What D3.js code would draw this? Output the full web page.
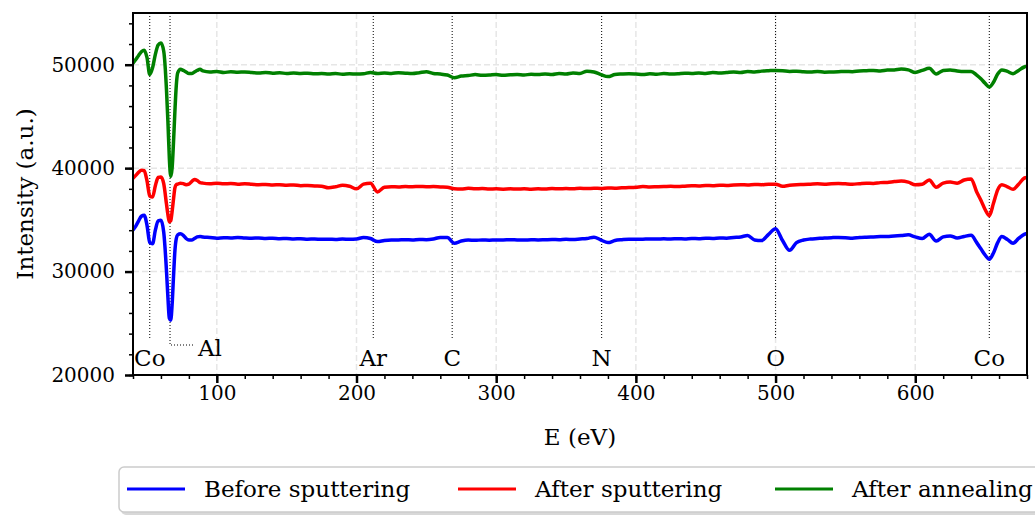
<!DOCTYPE html>
<html><head><meta charset="utf-8">
<script src="https://cdn.jsdelivr.net/npm/d3@7/dist/d3.min.js"></script>
<style>
body{margin:0;background:#fff;}
text{font-family:"DejaVu Serif",serif;fill:#000;}
</style></head><body><svg id="c" width="1035" height="516"></svg>
<script>
// ---------------- data ----------------
const energy = [40,42,44,46,48,50,52,54,56,58,60,62,64,65,66,67,68,69,70,71,72,74,76,78,80,82,84,86,88,90,
95,100,105,110,115,120,125,130,135,140,145,150,155,160,165,170,175,180,185,190,195,200,205,210,215,220,225,230,235,240,245,250,255,260,265,270,275,280,285,290,295,300,305,310,315,320,325,330,335,340,345,350,355,360,365,370,375,380,385,390,395,400,405,410,415,420,425,430,435,440,445,450,455,460,465,470,475,480,485,490,495,500,505,510,515,520,525,530,535,540,545,550,555,560,565,570,575,580,585,590,595,600,605,610,615,620,625,630,635,
640,644,647,650,653,656,659,662,666,670,674,678,680];

const beforeSputtering = [34030,34400,34900,35350,35450,34500,32800,32700,34000,34900,34950,33800,30000,27500,25500,25300,26800,29500,32000,33200,33550,33650,33500,33200,33050,33050,33200,33350,33400,33350,
33300,33230,33280,33250,33300,33250,33220,33250,33200,33230,33180,33200,33150,33180,33130,33150,33120,33130,33100,33150,33120,33150,33300,33200,32900,33000,33050,33060,33080,33050,33100,33080,33150,33300,33300,32750,32950,33050,33020,33060,33040,33060,33050,33080,33060,33050,33070,33060,33080,33100,33080,33120,33100,33150,33200,33330,33050,32800,33000,33080,33130,33120,33130,33150,33140,33170,33150,33180,33160,33200,33180,33220,33200,33250,33230,33300,33350,33480,33050,33000,33600,34150,33000,32050,32800,33050,33150,33200,33250,33280,33300,33280,33230,33300,33330,33350,33380,33400,33450,33480,33550,33350,33200,33600,32950,33350,33450,33250,33400,
33500,32800,32200,31600,31200,31800,32800,33380,33100,32740,33200,33600,33700];

const afterSputtering = [39030,39300,39600,39800,39750,38800,37300,37200,38300,39100,39150,38500,36500,35500,34800,34900,35800,37000,38100,38400,38450,38550,38500,38400,38450,38700,38900,38800,38600,38550,
38500,38550,38480,38520,38450,38500,38450,38400,38420,38380,38400,38350,38380,38300,38320,38280,38250,38100,38200,38350,38250,38000,38450,38550,37700,38150,38200,38180,38220,38200,38230,38200,38220,38180,38150,38000,37980,38050,38000,38020,37980,38000,37970,38000,37980,38010,37970,38000,37980,38020,38000,38030,38000,38050,38020,38060,38030,38080,38060,38100,38120,38150,38220,38180,38200,38220,38250,38220,38260,38300,38280,38320,38300,38350,38330,38380,38400,38380,38420,38400,38450,38450,38250,38350,38400,38420,38450,38480,38450,38500,38520,38480,38450,38500,38550,38520,38600,38620,38700,38750,38650,38400,38450,38850,38150,38550,38650,38550,38850,
38950,37700,36900,36000,35400,36600,37900,38400,38200,37950,38450,39030,39100];

const afterAnnealing = [50150,50500,50900,51250,51400,50700,49050,49700,51000,51900,52100,51300,47500,44500,41000,39200,40000,42500,45500,48000,49200,49550,49450,49300,49150,49150,49300,49450,49550,49400,
49300,49350,49250,49320,49280,49300,49250,49200,49250,49180,49220,49150,49200,49150,49180,49120,49150,49100,49150,49080,49120,49100,49130,49250,49150,49200,49160,49220,49180,49150,49230,49320,49150,49100,49000,48750,48900,48950,49050,48980,49000,49050,48980,49020,49050,49000,49080,49050,49100,49050,49150,49100,49200,49150,49380,49300,49050,48850,49050,49100,49130,49100,49050,49120,49080,49150,49100,49120,49180,49150,49200,49160,49250,49200,49250,49300,49250,49350,49300,49380,49420,49450,49420,49350,49380,49320,49300,49350,49280,49300,49320,49350,49330,49400,49420,49450,49400,49480,49500,49580,49500,49250,49450,49650,49100,49450,49500,49400,49350,
49350,49000,48650,48200,47850,48300,49100,49500,49350,49130,49450,49780,49850];

const seriesNames = ["Before sputtering", "After sputtering", "After annealing"];
const seriesColors = ["#0000ff", "#ff0000", "#008000"];
const xTickValues = [100, 200, 300, 400, 500, 600];
const yTickValues = [20000, 30000, 40000, 50000];
const elementNames = ["Co", "Al", "Ar", "C", "N", "O", "Co"];
const elementEnergies = [52, 66.5, 212, 268.5, 375.5, 500, 653];

// ---------------- chart ----------------
const svg = d3.select("#c");
const L = 133, R = 1027, T = 13, B = 375;
const x = d3.scaleLinear().domain([40, 680]).range([L, R]);
const y = d3.scaleLinear().domain([20000, 55000]).range([B, T]);

svg.append("rect").attr("width", 1035).attr("height", 516).attr("fill", "#fff");

// grid
const grid = svg.append("g").attr("stroke", "#e6e6e6").attr("stroke-width", 1.5).attr("stroke-dasharray", "6,3");
grid.selectAll(".gx").data(xTickValues).join("line")
  .attr("x1", d => x(d)).attr("x2", d => x(d)).attr("y1", T).attr("y2", B);
grid.selectAll(".gy").data(yTickValues.filter(d => d > 20000)).join("line")
  .attr("y1", d => y(d)).attr("y2", d => y(d)).attr("x1", L).attr("x2", R);

// element reference lines
const refG = svg.append("g").attr("stroke", "#000").attr("stroke-width", 1).attr("stroke-dasharray", "1,2").attr("fill", "none");
elementEnergies.forEach((e, i) => {
  if (elementNames[i] === "Al") {
    refG.append("path").attr("d", `M${x(e)},${T}V${y(22900)}H${x(83)}`);
  } else {
    refG.append("line").attr("x1", x(e)).attr("x2", x(e)).attr("y1", T).attr("y2", y(23400));
  }
});

// curves
const clip = svg.append("clipPath").attr("id", "clip").append("rect")
  .attr("x", L).attr("y", T).attr("width", R - L).attr("height", B - T);
const allSeries = [beforeSputtering, afterSputtering, afterAnnealing];
const line = d3.line().x((d, i) => x(energy[i])).y(d => y(d)).curve(d3.curveMonotoneX);
const curves = svg.append("g").attr("clip-path", "url(#clip)");
allSeries.forEach((s, k) => {
  curves.append("path").attr("d", line(s)).attr("fill", "none")
    .attr("stroke", seriesColors[k]).attr("stroke-width", 3.5)
    .attr("stroke-linejoin", "round").attr("stroke-linecap", "round");
});

// element labels
const lab = svg.append("g").attr("font-size", 23);
elementEnergies.forEach((e, i) => {
  if (elementNames[i] === "Al") {
    lab.append("text").attr("x", x(86.5)).attr("y", y(21850)).text("Al");
  } else {
    lab.append("text").attr("x", x(e)).attr("y", y(20880)).attr("text-anchor", "middle").text(elementNames[i]);
  }
});

// axes
const yMinor = d3.range(20000, 55001, 2000);
const xMinor = d3.range(40, 681, 20);
const ax = svg.append("g").attr("transform", `translate(0,${B})`)
  .call(d3.axisBottom(x).tickValues(xTickValues).tickSize(8).tickPadding(3).tickFormat(d3.format("d")));
ax.select(".domain").remove();
ax.selectAll("line").attr("stroke-width", 2.5);
ax.selectAll("text").attr("font-size", 20).attr("font-family", "DejaVu Serif");
const axm = svg.append("g").attr("transform", `translate(0,${B})`)
  .call(d3.axisBottom(x).tickValues(xMinor).tickSize(4).tickFormat(""));
axm.select(".domain").remove();
axm.selectAll("line").attr("stroke-width", 1.5);

const ay = svg.append("g").attr("transform", `translate(${L},0)`)
  .call(d3.axisLeft(y).tickValues(yTickValues).tickSize(8).tickPadding(10).tickFormat(d3.format("d")));
ay.select(".domain").remove();
ay.selectAll("line").attr("stroke-width", 2.5);
ay.selectAll("text").attr("font-size", 20).attr("font-family", "DejaVu Serif");
const aym = svg.append("g").attr("transform", `translate(${L},0)`)
  .call(d3.axisLeft(y).tickValues(yMinor).tickSize(4).tickFormat(""));
aym.select(".domain").remove();
aym.selectAll("line").attr("stroke-width", 1.5);

// frame
svg.append("rect").attr("x", L).attr("y", T).attr("width", R - L).attr("height", B - T)
  .attr("fill", "none").attr("stroke", "#000").attr("stroke-width", 2);

// axis labels
svg.append("text").attr("x", (L + R) / 2).attr("y", 445).attr("text-anchor", "middle")
  .attr("font-size", 23).text("E (eV)");
svg.append("text").attr("transform", `translate(33,${(T + B) / 2}) rotate(-90)`)
  .attr("text-anchor", "middle").attr("font-size", 23).text("Intensity (a.u.)");

// legend
const lg = svg.append("g");
lg.append("rect").attr("x", 121).attr("y", 470).attr("width", 940).attr("height", 45).attr("rx", 5)
  .attr("fill", "#d8d8d8");
lg.append("rect").attr("x", 119).attr("y", 467).attr("width", 940).attr("height", 45).attr("rx", 5)
  .attr("fill", "#fff").attr("stroke", "#cccccc").attr("stroke-width", 1.5);
const legX = [127, 458, 775];
seriesNames.forEach((n, k) => {
  lg.append("line").attr("x1", legX[k]).attr("x2", legX[k] + 58).attr("y1", 489).attr("y2", 489)
    .attr("stroke", seriesColors[k]).attr("stroke-width", 3.2);
  lg.append("text").attr("x", legX[k] + 77).attr("y", 497).attr("font-size", 23).text(n);
});
</script></body></html>
